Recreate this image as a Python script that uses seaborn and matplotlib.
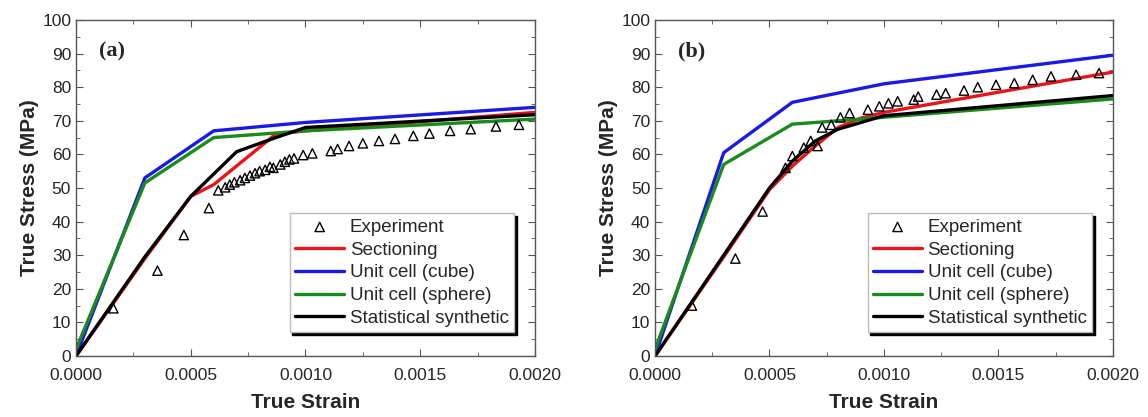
import numpy as np
import pandas as pd
import matplotlib
matplotlib.use("Agg")
import matplotlib.pyplot as plt
import seaborn as sns
from matplotlib.ticker import MultipleLocator

# ---- panel (a) ----
a_exp_x = [0.000163, 0.000355, 0.00047, 0.000579, 0.00062, 0.00065, 0.00067, 0.00069, 0.000715,
           0.000736, 0.000758, 0.00078, 0.0008, 0.000824, 0.000845, 0.00086, 0.00089, 0.00091,
           0.00093, 0.00095, 0.00099, 0.00103, 0.00111, 0.00114, 0.00119, 0.00125, 0.00132,
           0.00139, 0.00147, 0.00154, 0.00163, 0.00172, 0.00183, 0.00193]
a_exp_y = [14.2, 25.4, 36.0, 44.0, 49.3, 50.2, 51.0, 51.7, 52.3, 53.0, 53.7, 54.4, 55.0, 55.4,
           56.3, 56.0, 57.0, 57.8, 58.5, 58.8, 59.8, 60.3, 61.0, 61.6, 62.5, 63.3, 64.0, 64.6,
           65.5, 66.2, 67.0, 67.5, 68.3, 68.8]
a_sec_x = [0.0, 0.0003, 0.0005, 0.0006, 0.00087, 0.001, 0.002]
a_sec_y = [0.0, 29.0, 47.5, 51.0, 66.0, 67.0, 72.5]
a_cube_x = [0.0, 0.0003, 0.0006, 0.001, 0.002]
a_cube_y = [0.0, 53.0, 67.0, 69.5, 74.0]
a_sph_x = [0.0, 0.0003, 0.0006, 0.001, 0.002]
a_sph_y = [2.0, 51.5, 65.0, 67.0, 70.5]
a_syn_x = [0.0, 0.0003, 0.0005, 0.0007, 0.00085, 0.001, 0.002]
a_syn_y = [0.0, 29.5, 47.5, 60.8, 64.5, 68.0, 71.8]

# ---- panel (b) ----
b_exp_x = [0.000161, 0.000351, 0.00047, 0.00057, 0.0006, 0.00065, 0.00068, 0.00071, 0.00073,
           0.00077, 0.00081, 0.00085, 0.00093, 0.00098, 0.00102, 0.00106, 0.00113, 0.00115,
           0.00123, 0.00127, 0.00135, 0.00141, 0.00149, 0.00157, 0.00165, 0.00173, 0.00184,
           0.00194]
b_exp_y = [15.0, 29.0, 43.0, 56.0, 59.5, 62.0, 64.0, 62.5, 68.0, 68.8, 71.0, 72.3, 73.3, 74.3,
           75.2, 75.8, 76.3, 77.2, 77.8, 78.2, 79.0, 80.0, 80.7, 81.2, 82.2, 83.2, 83.7, 84.2]
b_sec_x = [0.0, 0.0003, 0.0005, 0.0006, 0.0007, 0.0008, 0.0009, 0.001, 0.0015, 0.002]
b_sec_y = [0.0, 29.5, 49.5, 56.5, 62.5, 68.0, 70.8, 72.5, 78.5, 84.5]
b_cube_x = [0.0, 0.0003, 0.0006, 0.001, 0.002]
b_cube_y = [0.0, 60.5, 75.5, 81.0, 89.5]
b_sph_x = [0.0, 0.0003, 0.0006, 0.0009, 0.002]
b_sph_y = [2.0, 57.0, 69.0, 70.5, 76.5]
b_syn_x = [0.0, 0.0003, 0.0005, 0.0006, 0.0007, 0.0008, 0.001, 0.0015, 0.002]
b_syn_y = [0.0, 30.0, 50.0, 58.0, 64.0, 67.5, 71.5, 74.5, 77.5]

labels = ['Experiment', 'Sectioning', 'Unit cell (cube)', 'Unit cell (sphere)', 'Statistical synthetic']
colors = ['black', '#e8141b', '#1a1ae6', '#1a8a1a', 'black']

sns.set_style("ticks")
plt.rcParams['font.family'] = ['Liberation Sans', 'DejaVu Sans']
plt.rcParams['xtick.direction'] = 'in'
plt.rcParams['ytick.direction'] = 'in'

fig = plt.figure(figsize=(11.48, 4.17), dpi=100)
ax_a = fig.add_axes([0.0662, 0.1463, 0.3998, 0.8058])
ax_b = fig.add_axes([0.5706, 0.1463, 0.3987, 0.8058])

panels = [
    (ax_a, '(a)', a_exp_x, a_exp_y, [(a_sec_x, a_sec_y), (a_cube_x, a_cube_y), (a_sph_x, a_sph_y), (a_syn_x, a_syn_y)]),
    (ax_b, '(b)', b_exp_x, b_exp_y, [(b_sec_x, b_sec_y), (b_cube_x, b_cube_y), (b_sph_x, b_sph_y), (b_syn_x, b_syn_y)]),
]

for ax, tag, ex, ey, curves in panels:
    sns.scatterplot(x=ex, y=ey, ax=ax, marker='^', s=45, facecolors='none',
                    edgecolor='black', linewidth=1.0, label=labels[0], zorder=5)
    for (cx, cy), lab, col in zip(curves, labels[1:], colors[1:]):
        sns.lineplot(x=cx, y=cy, ax=ax, color=col, linewidth=2.4, label=lab, sort=False,
                     estimator=None)
    ax.set_xlim(0, 0.002)
    ax.set_ylim(0, 100)
    ax.xaxis.set_major_locator(MultipleLocator(0.0005))
    ax.xaxis.set_minor_locator(MultipleLocator(0.00025))
    ax.yaxis.set_major_locator(MultipleLocator(10))
    ax.yaxis.set_minor_locator(MultipleLocator(5))
    ax.xaxis.set_major_formatter(plt.FormatStrFormatter('%.4f'))
    ax.tick_params(which='both', top=True, right=True, direction='in', labelsize=12.5,
                   color='#555555')
    ax.tick_params(which='major', length=5)
    ax.tick_params(which='minor', length=3)
    ax.tick_params(axis='x', which='major', pad=9)
    for sp in ax.spines.values():
        sp.set_color('#555555')
        sp.set_linewidth(1.0)
    ax.set_xlabel('True Strain', fontsize=15, fontweight='bold', labelpad=7)
    ax.set_ylabel('True Stress (MPa)', fontsize=15, fontweight='bold', labelpad=2)
    ax.text(0.05, 0.905, tag, transform=ax.transAxes, fontsize=16, fontweight='bold',
            family='Liberation Serif', va='center')
    leg = ax.legend(loc='lower right', bbox_to_anchor=(0.955, 0.07), fontsize=13.5,
                    frameon=True, fancybox=False, edgecolor='#bbbbbb', framealpha=1,
                    shadow={'color': 'black', 'alpha': 1.0}, handlelength=2.6,
                    handletextpad=0.3, labelspacing=0.3, borderpad=0.3, borderaxespad=0)
    leg.get_frame().set_linewidth(1.0)

fig.savefig('out.png', dpi=100)
